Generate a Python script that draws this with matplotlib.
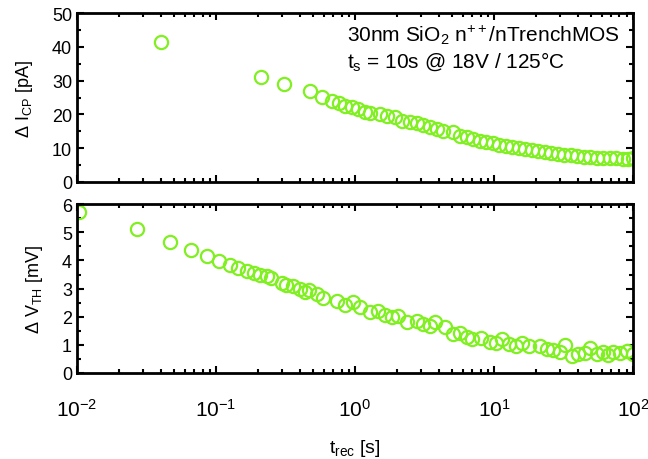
import numpy as np
import matplotlib
matplotlib.use("Agg")
import matplotlib.pyplot as plt
from matplotlib.ticker import LogLocator, MultipleLocator, FuncFormatter, NullFormatter

plt.rcParams["font.family"] = ["Liberation Sans", "DejaVu Sans"]
plt.rcParams["mathtext.fontset"] = "custom"
plt.rcParams["mathtext.rm"] = "Liberation Sans"
plt.rcParams["mathtext.it"] = "Liberation Sans"
plt.rcParams["mathtext.default"] = "regular"

# charge pumping current shift (top panel)
t_icp = [0.040, 0.211, 0.308, 0.474, 0.58, 0.684, 0.767, 0.847, 0.951, 1.05,
         1.18, 1.28, 1.51, 1.70, 1.94, 2.18, 2.49, 2.79, 3.08, 3.47,
         3.89, 4.30, 5.07, 5.69, 6.39, 7.06, 7.93, 8.76, 9.84, 10.9,
         12.2, 13.5, 15.1, 16.7, 18.8, 20.7, 23.3, 25.7, 28.8, 31.9,
         35.8, 39.6, 44.4, 49.1, 55.1, 60.8, 68.3, 75.5, 84.8, 92.0, 100.0]
d_icp = [41.6, 31.1, 29.0, 26.9, 25.1, 24.0, 23.4, 22.6, 22.1, 21.6,
         20.8, 20.4, 20.1, 19.6, 19.1, 18.1, 17.7, 17.4, 16.9, 16.2,
         15.7, 15.2, 14.9, 13.7, 13.2, 12.7, 12.1, 11.7, 11.4, 10.9,
         10.7, 10.4, 10.1, 9.8, 9.5, 9.2, 8.9, 8.6, 8.4, 8.1,
         8.0, 7.8, 7.5, 7.4, 7.2, 7.1, 7.0, 7.0, 6.8, 6.8, 7.0]

# threshold voltage shift (bottom panel)
t_vth = [0.0103, 0.027, 0.047, 0.066, 0.086, 0.105, 0.126, 0.143, 0.167, 0.188,
         0.207, 0.233, 0.25, 0.30, 0.32, 0.36, 0.40, 0.44, 0.47, 0.53,
         0.59, 0.74, 0.85, 0.97, 1.09, 1.28, 1.46, 1.64, 1.84, 2.03,
         2.35, 2.78, 3.07, 3.44, 3.74, 4.42, 5.05, 5.67, 6.37, 7.0,
         8.1, 9.3, 10.4, 11.5, 12.9, 14.5, 16.0, 18.0, 21.4, 24.0,
         26.6, 29.8, 32.4, 36.5, 40.3, 45.3, 49.3, 55.3, 61.3, 66.5,
         72.3, 80.9, 91.0, 100.0]
d_vth = [5.73, 5.11, 4.64, 4.38, 4.16, 3.99, 3.83, 3.72, 3.63, 3.57,
         3.48, 3.43, 3.36, 3.19, 3.12, 3.08, 2.98, 2.89, 2.96, 2.80,
         2.65, 2.57, 2.41, 2.51, 2.33, 2.15, 2.21, 2.06, 1.98, 2.01,
         1.80, 1.86, 1.74, 1.68, 1.82, 1.62, 1.38, 1.42, 1.27, 1.21,
         1.23, 1.09, 1.07, 1.21, 1.03, 0.97, 1.07, 0.97, 0.97, 0.85,
         0.83, 0.76, 1.00, 0.61, 0.67, 0.71, 0.88, 0.67, 0.73, 0.64,
         0.73, 0.71, 0.79, 0.67]

green = "#80f020"
fs = 13

fig = plt.figure(figsize=(6.48, 4.60), dpi=100)
ax1 = fig.add_axes([0.1188, 0.6022, 0.858, 0.367])
ax2 = fig.add_axes([0.1188, 0.187, 0.858, 0.367])


def log_fmt(v, pos):
    return r"$10^{%d}$" % int(round(np.log10(v)))


for ax in (ax1, ax2):
    ax.set_xscale("log")
    ax.set_xlim(1e-2, 1e2)
    ax.xaxis.set_major_locator(LogLocator(base=10, numticks=10))
    ax.xaxis.set_minor_locator(LogLocator(base=10, subs=np.arange(2, 10), numticks=10))
    ax.xaxis.set_minor_formatter(NullFormatter())
    ax.tick_params(which="both", direction="in", top=True, right=True,
                   labelsize=fs, width=1.5)
    ax.tick_params(which="major", length=5)
    ax.tick_params(which="minor", length=3)
    for s in ax.spines.values():
        s.set_linewidth(2)

ax1.plot(t_icp, d_icp, "o", mfc="none", mec=green, ms=9.5, mew=1.6)
ax1.set_ylim(0, 50)
ax1.yaxis.set_major_locator(MultipleLocator(10))
ax1.yaxis.set_minor_locator(MultipleLocator(5))
ax1.xaxis.set_major_formatter(NullFormatter())
ax1.set_ylabel(r"$\Delta$ I$_{CP}$ [pA]", fontsize=fs, labelpad=12)
ax1.text(0.485, 0.876, r"30nm SiO$_2$ n$^{++}$/nTrenchMOS", transform=ax1.transAxes,
         fontsize=15, va="center")
ax1.text(0.485, 0.716, r"t$_s$ = 10s @ 18V / 125°C", transform=ax1.transAxes,
         fontsize=15, va="center")

ax2.plot(t_vth, d_vth, "o", mfc="none", mec=green, ms=9.5, mew=1.6)
ax2.set_ylim(0, 6)
ax2.yaxis.set_major_locator(MultipleLocator(1))
ax2.yaxis.set_minor_locator(MultipleLocator(0.5))
ax2.xaxis.set_major_formatter(FuncFormatter(log_fmt))
ax2.tick_params(axis="x", which="major", pad=18, labelsize=fs + 2)
ax2.set_ylabel(r"$\Delta$ V$_{TH}$ [mV]", fontsize=fs, labelpad=12)
ax2.set_xlabel(r"t$_{rec}$ [s]", fontsize=fs + 1, labelpad=12)

fig.align_ylabels([ax1, ax2])
fig.savefig("out.png", dpi=100)
